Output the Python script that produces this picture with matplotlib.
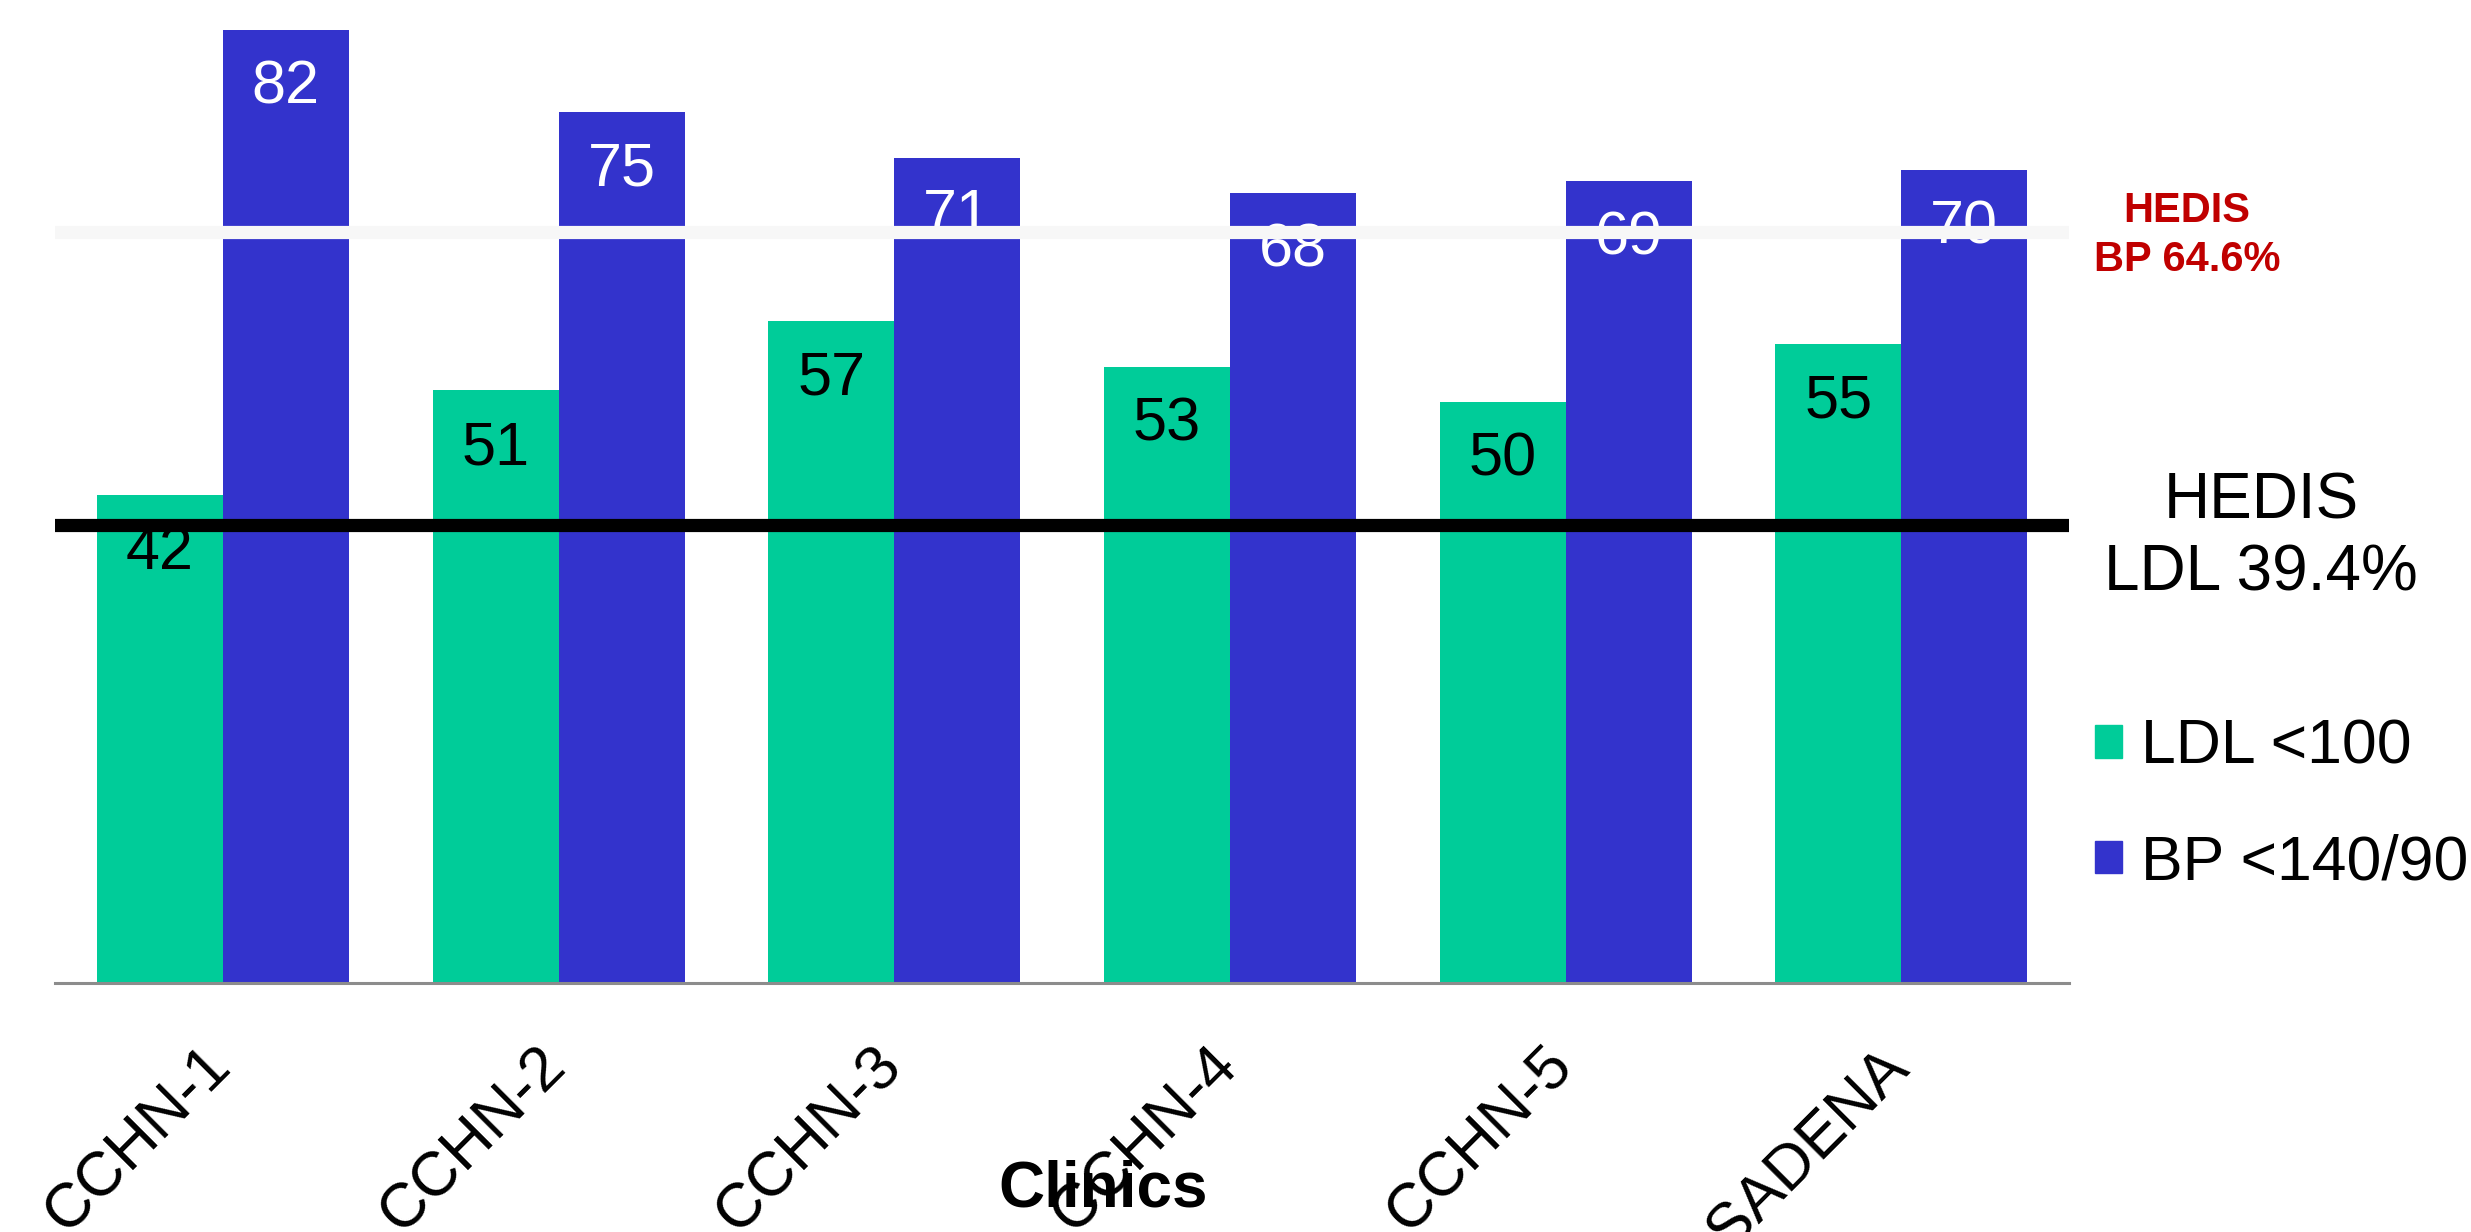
import matplotlib
matplotlib.use("Agg")
import matplotlib.pyplot as plt
import matplotlib.patches as mpatches
import matplotlib.transforms as mtransforms
import numpy as np

plt.rcParams['font.family'] = ['Liberation Sans', 'DejaVu Sans']

# Data
clinics = ['CCHN-1', 'CCHN-2', 'CCHN-3', 'CCHN-4', 'CCHN-5', 'PASADENA']
ldl_values = [42, 51, 57, 53, 50, 55]
bp_values = [82, 75, 71, 68, 69, 70]
series_names = ['LDL <100', 'BP <140/90']
hedis_ldl = 39.4
hedis_bp = 64.6

green = '#00CC99'
blue = '#3333CC'

fig = plt.figure(figsize=(24.71, 12.32), dpi=100)
ax = fig.add_axes([0.0223, 0.2020, 0.8151, 0.7980])

x = np.arange(len(clinics))
bar_width = 0.375

ax.bar(x - bar_width / 2, ldl_values, width=bar_width, color=green, zorder=2)
ax.bar(x + bar_width / 2, bp_values, width=bar_width, color=blue, zorder=2)

# value labels inside the top of each bar
for xi, v in zip(x, ldl_values):
    ax.text(xi - bar_width / 2, v - 5.0, str(v), ha='center', va='center',
            fontsize=44, color='black', zorder=3)
for xi, v in zip(x, bp_values):
    ax.text(xi + bar_width / 2, v - 5.0, str(v), ha='center', va='center',
            fontsize=44, color='white', zorder=3)

# HEDIS benchmark lines
ax.axhline(hedis_bp, color='#F7F7F7', linewidth=9.5, zorder=5)
ax.axhline(hedis_ldl, color='black', linewidth=9.5, zorder=5)

ax.set_xlim(-0.5, len(clinics) - 0.5)
ax.set_ylim(0, 84.6)

ax.set_xticks(x)
ax.set_xticklabels(clinics, rotation=45, ha='right', va='baseline',
                   rotation_mode='anchor', fontsize=45)
ax.tick_params(axis='x', length=0, pad=61)
shift = mtransforms.ScaledTranslation(0.1, 0, fig.dpi_scale_trans)
for lbl in ax.get_xticklabels():
    lbl.set_transform(lbl.get_transform() + shift)
ax.set_yticks([])

for side in ['top', 'right', 'left']:
    ax.spines[side].set_visible(False)
ax.spines['bottom'].set_color('#8C8C8C')
ax.spines['bottom'].set_linewidth(2.2)

fig.text(0.4464, 0.0345, 'Clinics', ha='center', va='center',
         fontsize=46, fontweight='bold')

fig.text(0.885, 0.8087, 'HEDIS\nBP 64.6%', ha='center', va='center',
         fontsize=30, fontweight='bold', color='#C00000', linespacing=1.3)
fig.text(0.915, 0.564, 'HEDIS\nLDL 39.4%', ha='center', va='center',
         fontsize=46, color='black', linespacing=1.25)

handles = [mpatches.Patch(color=green), mpatches.Patch(color=blue)]
fig.legend(handles, series_names, loc='center left',
           bbox_to_anchor=(0.848, 0.3465), frameon=False, fontsize=45,
           handlelength=0.43, handleheight=0.43, handletextpad=0.3,
           labelspacing=0.9, borderpad=0, borderaxespad=0)

fig.savefig('out.png', dpi=100)
